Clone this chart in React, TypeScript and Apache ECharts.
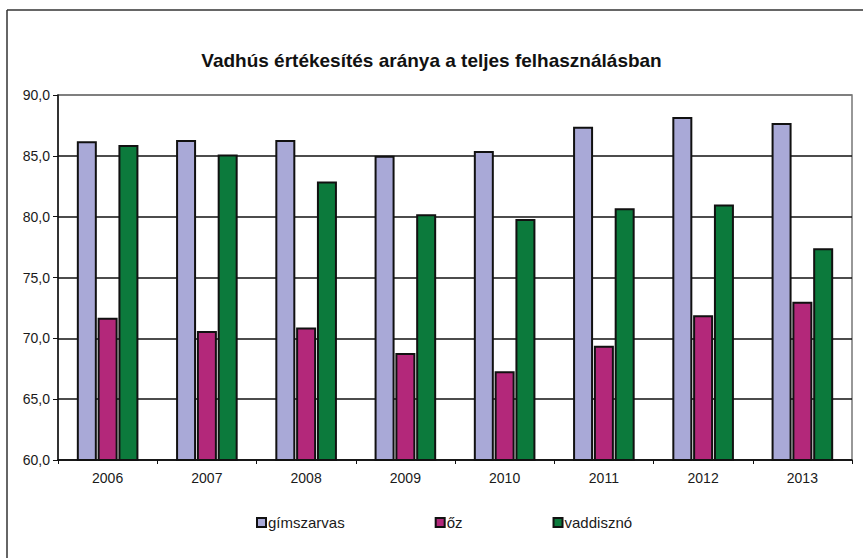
import React, { useEffect, useRef } from "react";
import * as echarts from "echarts";

const title = "Vadhús értékesítés aránya a teljes felhasználásban";
const years = ["2006", "2007", "2008", "2009", "2010", "2011", "2012", "2013"];
const seriesNames = ["gímszarvas", "őz", "vaddisznó"];
const gimszarvas = [86.2, 86.3, 86.3, 85.0, 85.4, 87.4, 88.2, 87.7];
const oz = [71.7, 70.6, 70.9, 68.8, 67.3, 69.4, 71.9, 73.0];
const vaddiszno = [85.9, 85.1, 82.9, 80.2, 79.8, 80.7, 81.0, 77.4];
const colors = ["#a9a9d7", "#b3287a", "#0c7a3c"];

export default function App() {
  const ref = useRef<HTMLDivElement>(null);
  useEffect(() => {
    document.body.style.margin = "0";
    const chart = echarts.init(ref.current!, null, { renderer: "svg" });
    const data = [gimszarvas, oz, vaddiszno];
    const font = "Liberation Sans, Arial";
    chart.setOption({
      animation: false,
      backgroundColor: "#ffffff",
      title: {
        text: title,
        left: "center",
        top: 46,
        textStyle: { fontFamily: font, fontSize: 19, fontWeight: "bold", color: "#111" },
      },
      grid: { left: 58, right: 11, top: 95, bottom: 98, show: true, borderColor: "#777", borderWidth: 1.5 },
      xAxis: {
        type: "category",
        data: years,
        axisLine: { lineStyle: { color: "#111", width: 1.5 } },
        axisTick: { show: true, length: 4, lineStyle: { color: "#111" } },
        axisLabel: { color: "#1a1a1a", fontSize: 14, fontFamily: font, margin: 11 },
      },
      yAxis: {
        type: "value",
        min: 60,
        max: 90,
        interval: 5,
        axisLine: { show: true, lineStyle: { color: "#111", width: 1.5 } },
        axisTick: { show: true, length: 5, lineStyle: { color: "#111" } },
        axisLabel: {
          color: "#1a1a1a",
          fontSize: 14,
          fontFamily: font,
          margin: 8,
          formatter: (v: number) => v.toFixed(1).replace(".", ","),
        },
        splitLine: {
          show: true,
          lineStyle: { color: ["#111", "#111", "#111", "#111", "#111", "#111", "#777"], width: 1.5 },
        },
      },
      legend: {
        top: 510,
        left: 251,
        itemGap: 90,
        itemWidth: 9,
        itemHeight: 9,
        icon: "rect",
        textStyle: { color: "#1a1a1a", fontSize: 15, fontFamily: font, padding: [0, 0, 0, -3] },
        data: seriesNames,
      },
      series: seriesNames.map((name, i) => ({
        name,
        type: "bar",
        data: data[i],
        barWidth: 20,
        barGap: "4%",
        itemStyle: { color: colors[i], borderColor: "#111", borderWidth: 2 },
      })),
      graphic: [
        { type: "line", shape: { x1: 7, y1: 10, x2: 7, y2: 558 }, style: { stroke: "#333", lineWidth: 1.5 } },
        { type: "line", shape: { x1: 7, y1: 10, x2: 863, y2: 10 }, style: { stroke: "#333", lineWidth: 1.5 } },
      ],
    });
    return () => chart.dispose();
  }, []);
  return <div ref={ref} style={{ width: 863, height: 558 }} />;
}
